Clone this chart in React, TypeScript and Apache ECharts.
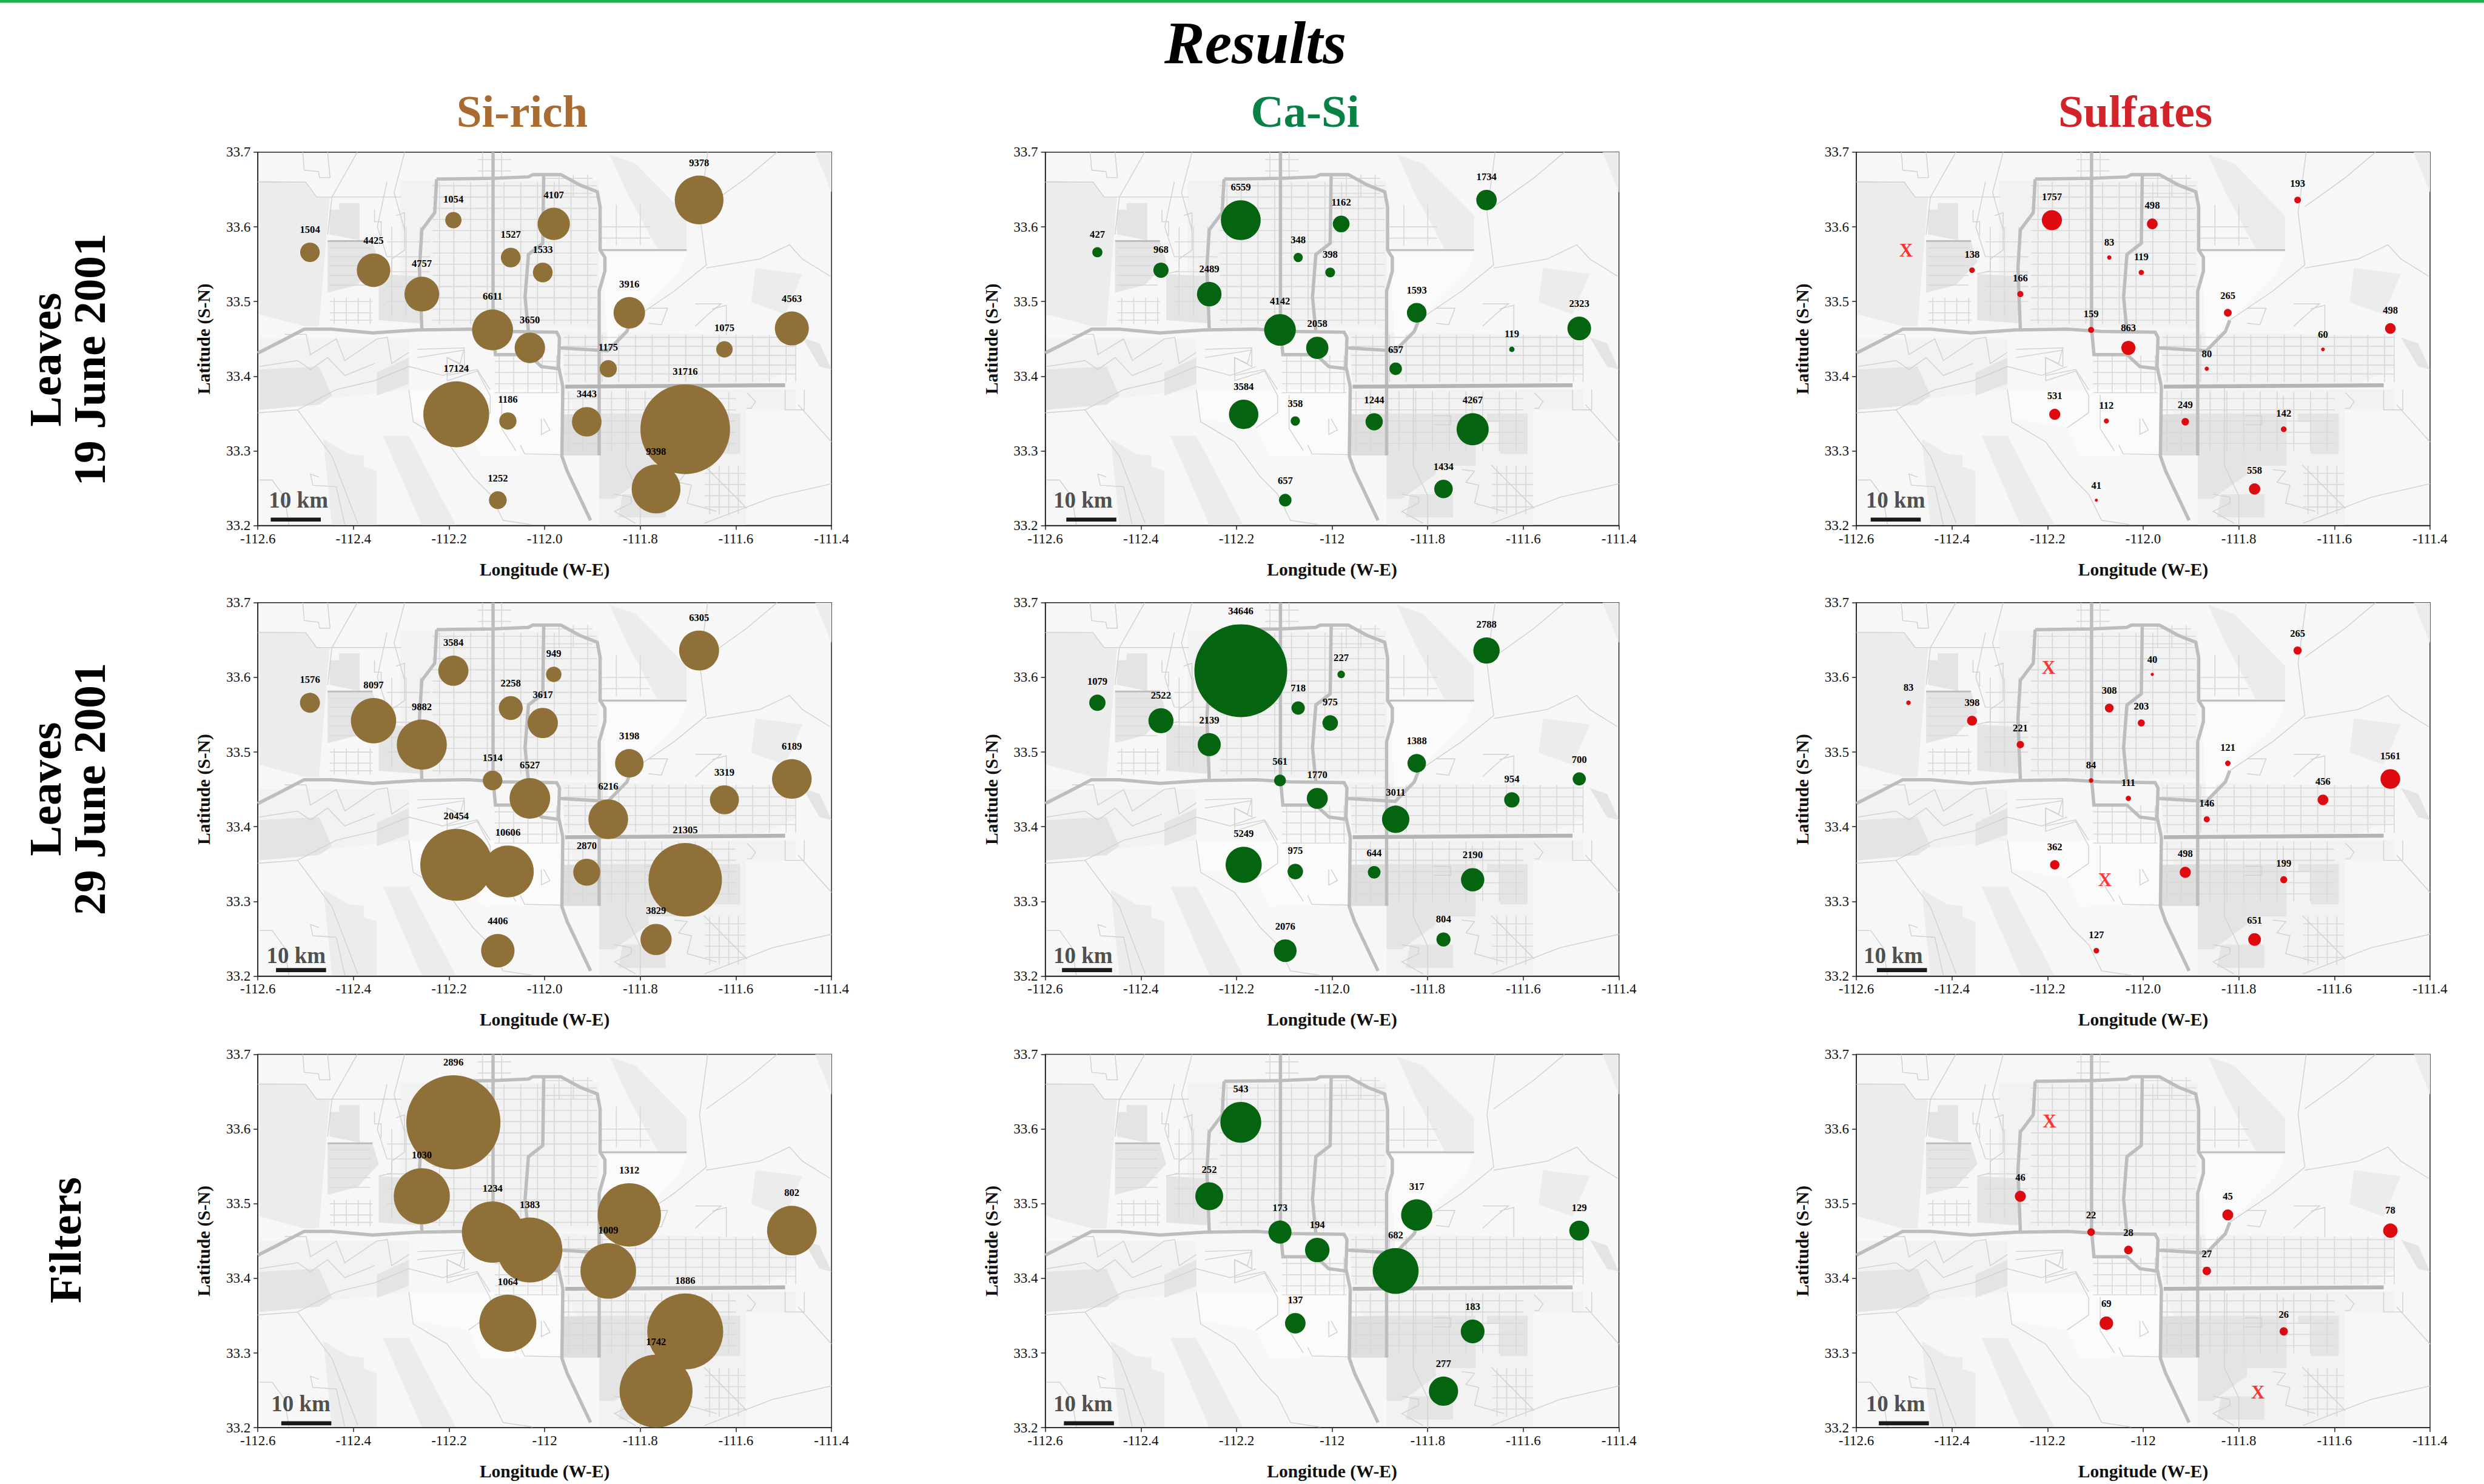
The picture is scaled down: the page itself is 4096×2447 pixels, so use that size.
import React, { useEffect, useRef } from "react";
import * as echarts from "echarts";

const FONT = "Liberation Serif";
const siteLon = [-112.491,-112.358,-112.257,-112.191,-112.071,-111.981,-112.004,-112.109,-112.031,-111.823,-111.677,-111.483,-111.624,-111.867,-112.185,-112.077,-111.912,-111.706,-111.767,-112.098];
const siteLat = [33.566,33.542,33.510,33.609,33.559,33.604,33.539,33.462,33.438,33.485,33.636,33.464,33.436,33.410,33.349,33.340,33.339,33.329,33.249,33.234];

const siLeaves19 = [1504,4425,4757,1054,1527,4107,1533,6611,3650,3916,9378,4563,1075,1175,17124,1186,3443,31716,9398,1252];
const caLeaves19 = [427,968,2489,6559,348,1162,398,4142,2058,1593,1734,2323,119,657,3584,358,1244,4267,1434,657];
const suLeaves19 = [null,138,166,1757,83,498,119,159,863,265,193,498,60,80,531,112,249,142,558,41];
const siLeaves29 = [1576,8097,9882,3584,2258,949,3617,1514,6527,3198,6305,6189,3319,6216,20454,10606,2870,21305,3829,4406];
const caLeaves29 = [1079,2522,2139,34646,718,227,975,561,1770,1388,2788,700,954,3011,5249,975,644,2190,804,2076];
const suLeaves29 = [83,398,221,null,308,40,203,84,111,121,265,1561,456,146,362,null,498,199,651,127];
const siFilters = [null,null,1030,2896,null,null,null,1234,1383,1312,null,802,null,1009,null,1064,null,1886,1742,null];
const caFilters = [null,null,252,543,null,null,null,173,194,317,null,129,null,682,null,137,null,183,277,null];
const suFilters = [null,null,46,null,null,null,null,22,28,45,null,78,null,27,null,69,null,26,null,null];

const xLeaves19 = [[-112.496,33.569]];
const xLeaves29 = [[-112.198,33.613],[-112.08,33.329]];
const xFilters = [[-112.196,33.611],[-111.76,33.248]];

const columnTitles = ["Si-rich","Ca-Si","Sulfates"];
const rowTitles = ["Leaves\n19 June 2001","Leaves\n29 June 2001","Filters"];

// base map, in lon/lat
const mapPale = [
  [[-112.302,33.662],[-111.886,33.662],[-111.886,33.464],[-112.257,33.466],[-112.302,33.53]],
  [[-111.966,33.46],[-111.479,33.454],[-111.475,33.411],[-111.55,33.39],[-111.957,33.39]],
  [[-111.962,33.382],[-111.475,33.382],[-111.475,33.355],[-111.579,33.355],[-111.579,33.201],[-111.886,33.201],[-111.886,33.294]],
  [[-112.597,33.45],[-112.284,33.45],[-112.284,33.382],[-112.597,33.36]],
];
const mapWhite = [
  [[-112.284,33.382],[-111.966,33.382],[-111.966,33.295],[-112.132,33.293],[-112.159,33.331],[-112.275,33.343]],
  [[-111.877,33.565],[-111.703,33.565],[-111.72,33.538],[-111.819,33.475],[-111.868,33.436],[-111.874,33.506]],
];
const mapLight = [
  [[-112.597,33.662],[-112.499,33.66],[-112.477,33.64],[-112.45,33.64],[-112.472,33.467],[-112.503,33.467],[-112.597,33.483]],
  [[-112.463,33.316],[-112.41,33.296],[-112.378,33.294],[-112.378,33.279],[-112.351,33.273],[-112.351,33.201],[-112.445,33.201]],
  [[-111.864,33.697],[-111.81,33.685],[-111.703,33.615],[-111.703,33.571],[-111.765,33.571],[-111.828,33.646]],
  [[-112.338,33.32],[-112.284,33.32],[-112.186,33.201],[-112.257,33.201]],
  [[-111.559,33.545],[-111.461,33.537],[-111.497,33.483],[-111.568,33.499]],
  [[-111.434,33.7],[-111.4,33.7],[-111.4,33.646]],
];
const mapMid = [
  [[-112.454,33.58],[-112.36,33.58],[-112.347,33.553],[-112.392,33.522],[-112.454,33.512]],
  [[-112.45,33.623],[-112.43,33.623],[-112.43,33.632],[-112.387,33.632],[-112.387,33.582],[-112.45,33.59]],
  [[-111.886,33.35],[-111.783,33.35],[-111.783,33.269],[-111.854,33.236],[-111.886,33.236]],
  [[-111.676,33.35],[-111.591,33.35],[-111.591,33.296],[-111.649,33.296],[-111.649,33.339],[-111.676,33.339]],
  [[-112.597,33.409],[-112.472,33.413],[-112.445,33.374],[-112.472,33.362],[-112.597,33.355]],
  [[-112.351,33.405],[-112.284,33.425],[-112.284,33.39],[-112.351,33.374]],
  [[-111.461,33.452],[-111.425,33.444],[-111.4,33.409],[-111.425,33.413]],
  [[-112.347,33.537],[-112.262,33.534],[-112.262,33.471],[-112.347,33.475]],
  [[-111.837,33.242],[-111.747,33.242],[-111.747,33.211],[-111.846,33.211]],
  [[-111.79,33.35],[-111.7,33.35],[-111.7,33.28],[-111.79,33.28]],
];
const mapDark = [
  [[-111.962,33.349],[-111.886,33.35],[-111.886,33.294],[-111.962,33.294]],
];
const mapContours = [
  [[-112.6,33.351],[-112.517,33.355],[-112.436,33.382],[-112.356,33.394],[-112.284,33.413],[-112.213,33.401],[-112.159,33.413]],
  [[-112.517,33.355],[-112.445,33.293],[-112.391,33.203]],
  [[-112.284,33.382],[-112.275,33.339],[-112.204,33.312],[-112.15,33.265],[-112.114,33.242],[-112.087,33.207],[-112.025,33.201]],
  [[-111.659,33.7],[-111.676,33.619],[-111.662,33.549],[-111.729,33.514],[-111.819,33.475]],
  [[-111.662,33.545],[-111.55,33.557],[-111.488,33.576],[-111.461,33.557],[-111.403,33.534]],
  [[-111.662,33.627],[-111.577,33.666],[-111.514,33.7]],
  [[-111.4,33.256],[-111.523,33.238],[-111.666,33.203]],
  [[-111.47,33.362],[-111.4,33.312]],
  [[-112.506,33.7],[-112.503,33.676],[-112.473,33.674],[-112.471,33.666],[-112.449,33.666],[-112.454,33.7]],
  [[-112.392,33.7],[-112.445,33.64],[-112.454,33.59]],
  [[-112.293,33.7],[-112.315,33.646],[-112.293,33.596]],
  [[-112.266,33.425],[-112.168,33.435],[-112.168,33.413],[-112.204,33.425],[-112.204,33.401],[-112.141,33.409],[-112.114,33.382]],
  [[-111.497,33.382],[-111.497,33.355],[-111.457,33.355],[-111.457,33.382]],
  [[-111.65,33.49],[-111.62,33.495],[-111.62,33.455]],
  [[-112.6,33.66],[-112.5,33.66],[-112.477,33.64],[-112.3,33.64]],
  [[-112.33,33.66],[-112.35,33.6],[-112.33,33.56]],
  [[-112.09,33.375],[-112.09,33.33],[-112.06,33.3]],
  [[-111.83,33.385],[-111.83,33.28],[-111.80,33.24],[-111.80,33.2]],
  [[-112.356,33.623],[-112.356,33.607],[-112.342,33.607],[-112.342,33.588]],
  [[-112.311,33.615],[-112.293,33.619],[-112.293,33.569],[-112.32,33.557],[-112.32,33.541],[-112.347,33.537]],
  [[-112.544,33.456],[-112.499,33.456],[-112.49,33.429],[-112.436,33.45],[-112.418,33.421],[-112.351,33.45],[-112.329,33.452],[-112.32,33.417],[-112.284,33.432]],
  [[-112.597,33.413],[-112.517,33.421],[-112.49,33.409],[-112.454,33.425],[-112.436,33.413],[-112.418,33.401],[-112.356,33.417]],
  [[-112.266,33.436],[-112.168,33.438],[-112.177,33.417],[-112.204,33.425],[-112.204,33.394],[-112.141,33.407],[-112.114,33.374],[-112.114,33.351],[-112.159,33.331]],
  [[-111.783,33.471],[-111.756,33.469],[-111.743,33.491],[-111.783,33.491]],
  [[-111.685,33.467],[-111.658,33.483],[-111.631,33.497],[-111.685,33.497]],
  [[-111.787,33.347],[-111.752,33.347],[-111.752,33.335],[-111.787,33.335]],
  [[-111.707,33.374],[-111.707,33.35]],
  [[-111.577,33.378],[-111.559,33.366],[-111.568,33.357],[-111.577,33.357]],
  [[-112.002,33.343],[-111.989,33.328],[-112.007,33.322],[-112.007,33.343]],
  [[-112.051,33.308],[-112.042,33.296],[-111.966,33.295]],
  [[-111.667,33.281],[-111.577,33.223]],
  [[-111.854,33.242],[-111.819,33.238],[-111.819,33.23],[-111.854,33.219],[-111.81,33.203]],
  [[-111.729,33.275],[-111.702,33.273],[-111.72,33.258],[-111.693,33.254],[-111.702,33.23],[-111.64,33.219]],
  [[-112.597,33.261],[-112.57,33.261],[-112.544,33.238],[-112.535,33.201]],
  [[-112.472,33.265],[-112.49,33.269],[-112.485,33.254],[-112.436,33.252],[-112.418,33.201]],
];
const mapRoads = [
  [[-112.6,33.431],[-112.557,33.445],[-112.503,33.463],[-112.445,33.463],[-112.36,33.458],[-112.266,33.462],[-112.159,33.463],[-112.087,33.46],[-111.975,33.459],[-111.969,33.452],[-111.971,33.413],[-111.962,33.386],[-111.964,33.293],[-111.953,33.273],[-111.904,33.207]],
  [[-112.226,33.664],[-112.105,33.665],[-112.034,33.667],[-112.025,33.67],[-111.966,33.67],[-111.926,33.656],[-111.89,33.647],[-111.884,33.627],[-111.884,33.569],[-111.874,33.559],[-111.874,33.541],[-111.886,33.514],[-111.886,33.294]],
  [[-112.226,33.664],[-112.23,33.619],[-112.257,33.596],[-112.262,33.545],[-112.257,33.464]],
  [[-112.108,33.7],[-112.108,33.464],[-112.103,33.429],[-112.034,33.429],[-112.007,33.413],[-111.971,33.41]],
  [[-112.002,33.668],[-112.004,33.578],[-112.034,33.563],[-112.041,33.506],[-112.034,33.46]],
  [[-111.971,33.438],[-111.868,33.434],[-111.828,33.46],[-111.819,33.475]],
  [[-112.454,33.581],[-112.36,33.581]],
  [[-111.881,33.569],[-111.703,33.569]],
  [[-111.957,33.386],[-111.497,33.388]],
];
const gridBlocks = [
  { lons: [-112.22,-112.19,-112.155,-112.12,-112.085,-112.05,-112.015,-111.98,-111.945,-111.91], lats: [33.655,33.64,33.625,33.61,33.595,33.58,33.565,33.55,33.535,33.52,33.505,33.49,33.475], box: [-112.235,33.47,-111.89,33.66] },
  { lons: [-111.95,-111.915,-111.88,-111.845,-111.81,-111.775,-111.74,-111.705,-111.67,-111.635,-111.6,-111.565,-111.53,-111.495,-111.475], lats: [33.452,33.44,33.428,33.415,33.403], box: [-111.96,33.392,-111.475,33.456] },
  { lons: [-112.095,-112.065,-112.035,-112.005,-111.975], lats: [33.42,33.405,33.39,33.378], box: [-112.105,33.378,-111.97,33.428] },
  { lons: [-111.95,-111.92,-111.86,-111.825,-111.79,-111.755,-111.72,-111.685,-111.65,-111.615], lats: [33.37,33.355,33.34,33.325,33.31], box: [-111.96,33.3,-111.6,33.38] },
  { lons: [-111.655,-111.635,-111.615,-111.595], lats: [33.27,33.255,33.24,33.225], box: [-111.665,33.215,-111.58,33.28] },
  { lons: [-112.44,-112.415,-112.39,-112.365], lats: [33.5,33.485,33.475], box: [-112.45,33.47,-112.36,33.505] },
  { lons: [], lats: [33.572,33.56,33.548,33.535,33.522], box: [-112.45,33.51,-112.365,33.58] },
  { lons: [-112.32,-112.29,-112.26], lats: [33.58,33.56,33.54,33.52,33.5], box: [-112.33,33.48,-112.24,33.6] },
  { lons: [-111.85,-111.8], lats: [33.6,33.585], box: [-111.88,33.575,-111.78,33.63] },
  { lons: [-112.13,-112.09], lats: [33.69,33.675], box: [-112.14,33.665,-112.07,33.7] },
  { lons: [-111.97,-111.94,-111.91], lats: [33.665,33.645], box: [-112.0,33.64,-111.9,33.67] },
];

type Feature = { pts: number[][]; fill?: string; stroke?: string; width?: number };
const baseMap: Feature[] = [];
mapPale.forEach((pts) => baseMap.push({ pts, fill: "#f2f2f2" }));
mapWhite.forEach((pts) => baseMap.push({ pts, fill: "#fbfbfb" }));
mapLight.forEach((pts) => baseMap.push({ pts, fill: "#ececec" }));
mapMid.forEach((pts) => baseMap.push({ pts, fill: "#e4e4e4" }));
mapDark.forEach((pts) => baseMap.push({ pts, fill: "#dedede" }));
gridBlocks.forEach((g) => {
  g.lons.forEach((lon) => baseMap.push({ pts: [[lon, g.box[1]], [lon, g.box[3]]], stroke: "#d8d8d8", width: 1.6 }));
  g.lats.forEach((lat) => baseMap.push({ pts: [[g.box[0], lat], [g.box[2], lat]], stroke: "#d8d8d8", width: 1.6 }));
});
mapContours.forEach((pts) => baseMap.push({ pts, stroke: "#d0d0d0", width: 1.4 }));
mapRoads.forEach((pts, i) => baseMap.push({ pts, stroke: i === 8 ? "#b4b4b4" : "#bdbdbd", width: i === 8 ? 6.5 : i >= 6 ? 3 : 5.5 }));

const S = 4096 / 5183;
const colLeft = [538, 2181, 3873.4].map((v) => v * S);
const rowTop = [317.6, 1257.6, 2200].map((v) => v * S);
const PW = 1197 * S;
const PH = 779 * S;
const COLORS = ["#8f7039", "#04640f", "#dd0a10"];

const panels = [
  { r: 0, c: 0, vals: siLeaves19, k: 1.05, xs: [], long: true, bar: -112.573, txt: -112.515 },
  { r: 0, c: 1, vals: caLeaves19, k: 1.025, xs: [], long: false, bar: -112.556, txt: -112.521 },
  { r: 0, c: 2, vals: suLeaves19, k: 1.0, xs: xLeaves19, long: true, bar: -112.57, txt: -112.518 },
  { r: 1, c: 0, vals: siLeaves29, k: 1.05, xs: [], long: true, bar: -112.562, txt: -112.52 },
  { r: 1, c: 1, vals: caLeaves29, k: 1.04, xs: [], long: true, bar: -112.565, txt: -112.521 },
  { r: 1, c: 2, vals: suLeaves29, k: 1.04, xs: xLeaves29, long: true, bar: -112.557, txt: -112.523 },
  { r: 2, c: 0, vals: siFilters, k: 3.65, xs: [], long: false, bar: -112.551, txt: -112.51 },
  { r: 2, c: 1, vals: caFilters, k: 3.66, xs: [], long: false, bar: -112.561, txt: -112.521 },
  { r: 2, c: 2, vals: suFilters, k: 3.4, xs: xFilters, long: false, bar: -112.553, txt: -112.518 },
];
const barLat = [33.208, 33.208, 33.206];
const txtLat = [33.234, 33.228, 33.232];

function buildOption() {
  const grid: any[] = [], xAxis: any[] = [], yAxis: any[] = [], series: any[] = [];
  panels.forEach((p, i) => {
    grid.push({ left: colLeft[p.c], top: rowTop[p.r], width: PW, height: PH, show: true, backgroundColor: "#f7f7f7", borderColor: "#222", borderWidth: 1.5, containLabel: false });
    xAxis.push({
      type: "value", gridIndex: i, min: -112.6, max: -111.4, interval: 0.2,
      name: "Longitude (W-E)", nameLocation: "middle", nameGap: 57,
      nameTextStyle: { fontFamily: FONT, fontWeight: "bold", fontSize: 29.5, color: "#111" },
      splitLine: { show: false },
      axisLine: { onZero: false, lineStyle: { color: "#222", width: 1.5 } },
      axisTick: { length: 7, lineStyle: { color: "#222", width: 1.5 } },
      axisLabel: {
        fontFamily: FONT, fontSize: 23, color: "#111", margin: 10, hideOverlap: false, showMinLabel: true, showMaxLabel: true,
        formatter: (v: number) => (Math.abs(v + 112) < 1e-6 && !p.long ? "-112" : v.toFixed(1)),
      },
    });
    yAxis.push({
      type: "value", gridIndex: i, min: 33.2, max: 33.7, interval: 0.1,
      name: "Latitude (S-N)", nameLocation: "middle", nameGap: 74,
      nameTextStyle: { fontFamily: FONT, fontWeight: "bold", fontSize: 29.5, color: "#111" },
      splitLine: { show: false },
      axisLine: { onZero: false, lineStyle: { color: "#222", width: 1.5 } },
      axisTick: { length: 7, lineStyle: { color: "#222", width: 1.5 } },
      axisLabel: { fontFamily: FONT, fontSize: 23, color: "#111", margin: 12, formatter: (v: number) => v.toFixed(1) },
    });
    series.push({
      type: "custom", xAxisIndex: i, yAxisIndex: i, silent: true, z: 1, clip: false,
      data: baseMap.map((_, n) => [-112, 33.4, n]),
      renderItem: (_: any, api: any) => {
        const f = baseMap[api.value(2)];
        const points = f.pts.map((pt) => api.coord(pt));
        return f.fill
          ? { type: "polygon", shape: { points }, style: { fill: f.fill } }
          : { type: "polyline", shape: { points }, style: { stroke: f.stroke, lineWidth: f.width, fill: null } };
      },
    });
    const pts: any[] = [];
    p.vals.forEach((v, n) => { if (v !== null) pts.push({ value: [siteLon[n], siteLat[n], v] }); });
    series.push({
      type: "scatter", xAxisIndex: i, yAxisIndex: i, z: 3, silent: true,
      data: pts,
      symbolSize: (d: number[]) => p.k * Math.sqrt(d[2]) * S,
      itemStyle: { color: COLORS[p.c], opacity: 1 },
      label: { show: true, position: "top", distance: 13, formatter: (q: any) => String(q.value[2]), fontFamily: FONT, fontWeight: "bold", fontSize: 16.6, color: "#000" },
      labelLayout: { hideOverlap: false },
    });
    if (p.xs.length) {
      series.push({
        type: "scatter", xAxisIndex: i, yAxisIndex: i, z: 4, silent: true, symbolSize: 1,
        itemStyle: { color: "rgba(0,0,0,0)" }, data: p.xs,
        label: { show: true, position: "inside", formatter: "X", fontFamily: FONT, fontWeight: "bold", fontSize: 31, color: "#ff0000" },
      });
    }
    series.push({
      type: "line", xAxisIndex: i, yAxisIndex: i, z: 4, silent: true, symbol: "none",
      data: [[p.bar, barLat[p.r]], [p.bar + 0.1047, barLat[p.r]]],
      lineStyle: { color: "#1a1a1a", width: 6.7, cap: "butt" },
    });
    series.push({
      type: "scatter", xAxisIndex: i, yAxisIndex: i, z: 4, silent: true, symbolSize: 1,
      itemStyle: { color: "rgba(0,0,0,0)" }, data: [[p.txt, txtLat[p.r]]],
      label: { show: true, position: "inside", formatter: "10 km", fontFamily: FONT, fontWeight: "bold", fontSize: 37, color: "#222" },
    });
  });

  const titleCx = [861, 2152, 3521];
  const colColor = ["#aa6b31", "#078145", "#d2232a"];
  const rowCy = [593, 1301, 2045];
  const rowCx = [111, 111, 107];
  const graphic: any[] = [
    { type: "rect", shape: { x: 0, y: 0, width: 4096, height: 4.6 }, style: { fill: "#1bb14c" }, silent: true },
    { type: "text", x: 2070, y: 70, style: { text: "Results", fontFamily: FONT, fontWeight: "bold", fontStyle: "italic", fontSize: 100, fill: "#000", align: "center", verticalAlign: "middle" } },
  ];
  columnTitles.forEach((t, i) => graphic.push({ type: "text", x: titleCx[i], y: 183, style: { text: t, fontFamily: FONT, fontWeight: "bold", fontSize: 75, fill: colColor[i], align: "center", verticalAlign: "middle" } }));
  rowTitles.forEach((t, i) => graphic.push({ type: "text", x: rowCx[i], y: rowCy[i], rotation: Math.PI / 2, style: { text: t, fontFamily: FONT, fontWeight: "bold", fontSize: 75, lineHeight: 73, fill: "#000", align: "center", verticalAlign: "middle" } }));
  return { animation: false, backgroundColor: "#fff", grid, xAxis, yAxis, series, graphic };
}

export default function App() {
  const ref = useRef<HTMLDivElement>(null);
  useEffect(() => {
    document.body.style.margin = "0";
    const chart = echarts.init(ref.current!, undefined, { renderer: "svg" });
    chart.setOption(buildOption() as any);
    return () => chart.dispose();
  }, []);
  return <div ref={ref} style={{ width: 4096, height: 2447 }} />;
}
